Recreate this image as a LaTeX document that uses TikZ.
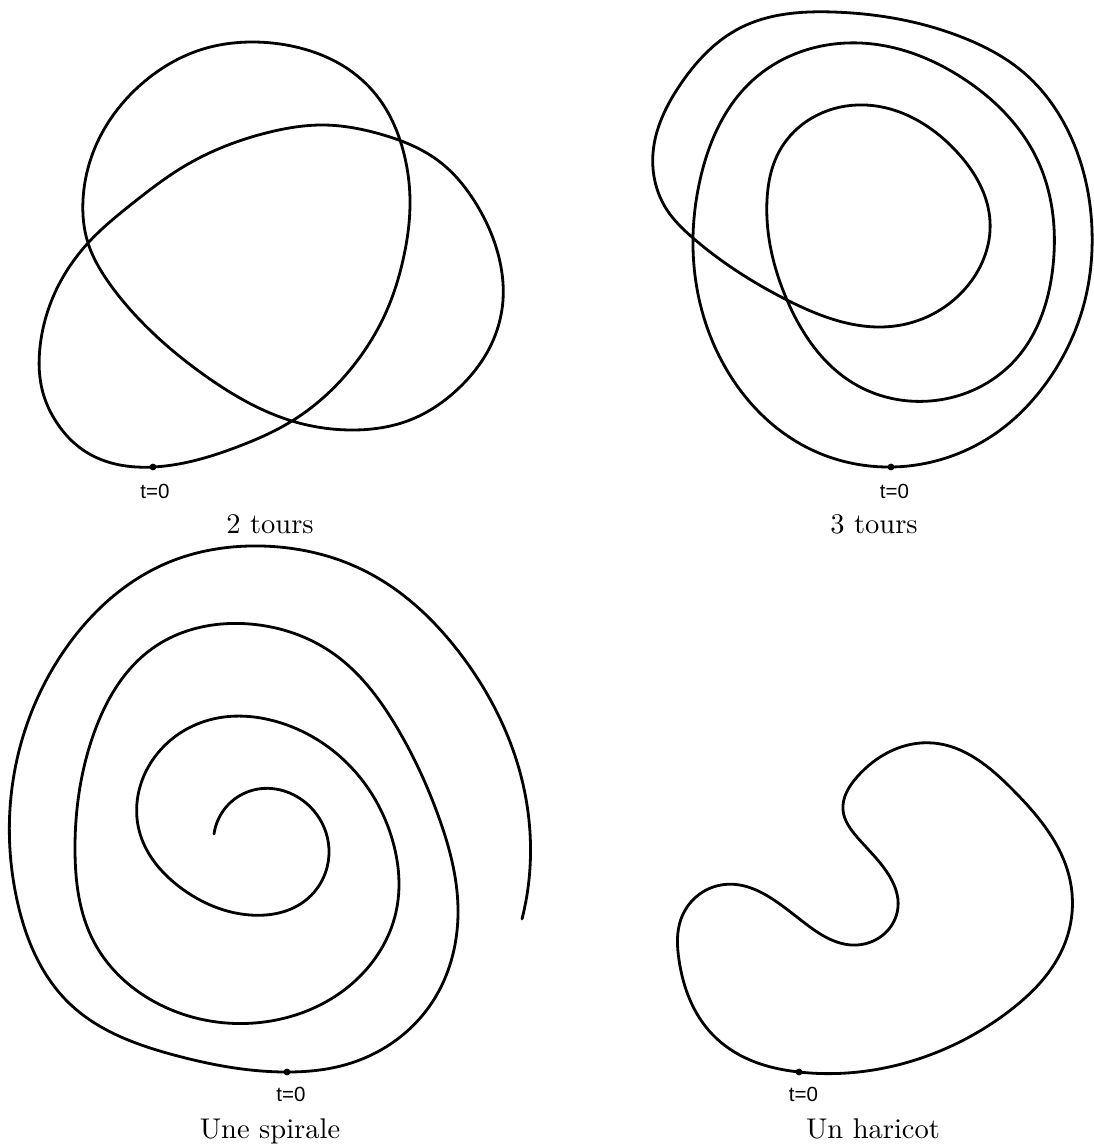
\documentclass[tikz,border=0pt]{standalone}
\usepackage{fontspec}
\usetikzlibrary{hobby}
\newfontfamily\labfont{Liberation Sans}
\newfontfamily\capfont{lmroman10-regular}[Extension=.otf]
\begin{document}
\begin{tikzpicture}[x=1pt,y=-1pt,
  curve/.style={line width=2.8pt, line join=round, line cap=round},
  tdot/.style={circle, fill=black, inner sep=0pt, minimum size=6.8pt},
  tlab/.style={anchor=base, inner sep=0pt, font=\labfont\fontsize{20.5}{24}\selectfont},
  captxt/.style={anchor=base, inner sep=0pt, font=\capfont\fontsize{28.5}{34}\selectfont}]
\useasboundingbox[fill=white] (0,0) rectangle (1094,1146);

% ---------- 2 tours ----------
\draw[curve] plot[closed hobby] coordinates {
(153,467) (237,447) (292,421) (360,357) (387,310) (403,260) (410,200)
(403,150) (380,100) (348,69) (296,47) (252,42) (200,50) (150,77) (117,110)
(97,143) (83,200) (88,243) (107,280) (137,317) (207,377) (292,421)
(353,430) (410,420) (460,387) (490,347) (503,300) (500,262) (475,202)
(440,162) (380,134) (323,125) (270,132) (183,167) (133,203) (88,243)
(63,277) (40,347) (43,393) (57,423) (83,450) (120,465)};
\node[tdot] (d1) at (153,467) {};
\node[tlab] (l1) at (155,498) {t=0};
\node[captxt] (c1) at (270,533) {2 tours};

% ---------- 3 tours ----------
\draw[curve] plot[closed hobby] coordinates {
(891,467) (999,431) (1044,386) (1085,300) (1092,230) (1070,135) (1023,72)
(964,38) (833,12) (740,28) (680,85) (653,153) (667,210) (693,238) (787,300)
(895,326) (964,290) (990,221) (957,152) (857,105) (780,150) (767,200)
(787,300) (853,383) (930,401) (1016,359) (1053,266) (1037,159) (964,79)
(860,43) (753,80) (700,180) (693,238) (728,372) (808,448)};
\node[tdot] (d2) at (891,467) {};
\node[tlab] (l2) at (894.5,498) {t=0};
\node[captxt] (c2) at (874,533) {3 tours};

% ---------- Une spirale ----------
\draw[curve] plot[hobby] coordinates {
(214,834) (250,791) (306,803) (329,850) (306,900) (250,915) (181,888)
(139,830) (150,764) (209,720) (278,722) (348,764) (393,842) (396,912)
(355,981) (264,1022) (167,1008) (94,942) (75,850) (94,733) (153,648)
(250,624) (334,654) (396,726) (438,815) (458,908) (431,1004) (348,1064)
(287,1072) (174,1055) (70,1004) (17,900) (16,764) (66,648) (167,563)
(261,546) (365,571) (462,656) (522,780) (528,888) (522,919)};
\node[tdot] (d3) at (287,1072) {};
\node[tlab] (l3) at (291,1101) {t=0};
\node[captxt] (c3) at (270,1138) {Une spirale};

% ---------- Un haricot ----------
\draw[curve] plot[closed hobby] coordinates {
(799,1072) (912,1061) (1008,1012) (1065,943) (1070,880) (1013,790)
(933,743) (857,777) (843,810) (857,837) (890,877) (898,907) (857,945)
(810,927) (721,885) (681,919) (679,960) (690,1000) (712,1034) (750,1060)};
\node[tdot] (d4) at (799,1072) {};
\node[tlab] (l4) at (803.5,1101) {t=0};
\node[captxt] (c4) at (873,1138) {Un haricot};
\end{tikzpicture}
\end{document}
